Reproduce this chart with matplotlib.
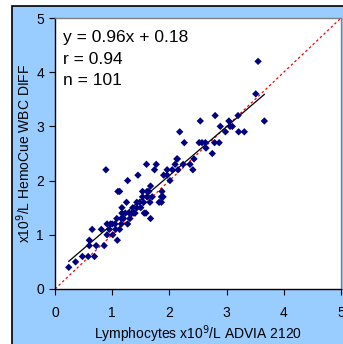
"""HemoCue WBC DIFF vs ADVIA 2120 lymphocyte comparison
"""
import matplotlib
matplotlib.use("Agg")
import matplotlib.pyplot as plt
from matplotlib.patches import Rectangle

# lymphocytes, x10^9/L
advia = [0.24, 0.36, 0.48, 0.58, 0.69, 0.60, 0.60, 0.72, 0.86, 0.65,
         0.81, 0.91, 0.91, 0.97, 1.01, 1.09, 1.06, 1.13, 1.08, 1.16,
         1.16, 1.27, 1.17, 1.17, 1.25, 1.34, 1.31, 1.36, 1.43, 1.43,
         1.48, 1.53, 1.61, 1.53, 1.61, 1.64, 1.67, 1.56, 1.59, 1.67,
         1.66, 1.70, 1.86, 1.86, 1.89, 1.87, 1.90, 1.96, 1.10, 1.13,
         0.89, 1.27, 1.45, 1.60, 1.77, 1.74, 1.96, 2.01, 2.10, 2.13,
         2.15, 2.24, 2.36, 2.41, 2.43, 2.64, 2.75, 3.55, 3.51, 3.66,
         3.20, 3.04, 3.10, 3.06, 3.21, 3.31, 2.98, 2.89, 2.80, 2.54,
         2.18, 2.26, 2.52, 2.57, 2.63, 2.79, 2.87, 2.14, 1.20, 1.23,
         1.38, 1.50, 1.55, 1.05, 0.95, 1.40, 1.62, 1.82, 1.30, 1.00,
         2.05]
hemocue = [0.4, 0.5, 0.6, 0.6, 0.6, 0.8, 0.9, 0.8, 0.8, 1.1,
           1.1, 1.0, 1.2, 1.2, 1.0, 0.9, 1.1, 1.1, 1.3, 1.2,
           1.3, 1.2, 1.4, 1.5, 1.6, 1.4, 1.3, 1.5, 1.6, 1.5,
           1.6, 1.8, 1.8, 1.7, 1.7, 1.8, 1.9, 1.4, 1.4, 1.3,
           1.6, 1.7, 1.7, 1.6, 1.7, 1.8, 2.1, 2.1, 1.8, 1.8,
           2.2, 2.0, 2.1, 2.3, 2.3, 2.2, 2.2, 2.0, 2.3, 2.4,
           2.2, 2.3, 2.3, 2.2, 2.4, 2.6, 2.5, 4.2, 3.6, 3.1,
           3.2, 3.1, 3.0, 3.0, 2.9, 2.9, 2.9, 3.0, 3.2, 3.1,
           2.9, 2.7, 2.7, 2.7, 2.7, 2.7, 2.7, 2.4, 1.3, 1.4,
           1.4, 1.5, 1.6, 1.2, 1.1, 1.4, 1.7, 1.6, 1.4, 1.2,
           2.2]

# regression line as drawn, and identity line
fit_x = [0.24, 3.66]
fit_y = [0.51, 3.59]
ident = [0, 5]

stats_text = ["y = 0.96x + 0.18", "r = 0.94", "n = 101"]
ticks = [0, 1, 2, 3, 4, 5]

plt.rcParams['font.family'] = ['Liberation Sans', 'DejaVu Sans']

W, H = 343, 344
fig = plt.figure(figsize=(W / 100, H / 100), dpi=100)
fig.patch.set_facecolor('white')

# outer chart area (light blue, black frame on top/left)
fig.patches.append(Rectangle((12 / W, -0.2), 1.2, (H - 6) / H + 0.2,
                             transform=fig.transFigure, facecolor='#99CCFF',
                             edgecolor='black', linewidth=1.2, zorder=-10))

ax = fig.add_axes([55 / W, (H - 289) / H, (341 - 55) / W, (289 - 18) / H])
ax.set_facecolor('white')

ax.plot(ident, ident, color='red', linestyle=(0, (2, 2)), linewidth=0.9, zorder=2)
ax.plot(fit_x, fit_y, color='black', linewidth=0.9, zorder=3)
ax.scatter(advia, hemocue, marker='D', s=14, color='#000080',
           edgecolor='none', zorder=4)

ax.set_xlim(0, 5)
ax.set_ylim(0, 5)
ax.set_xticks(ticks)
ax.set_yticks(ticks)
ax.tick_params(axis='both', direction='out', length=4, width=0.8,
               labelsize=10, colors='black')
ax.tick_params(axis='x', pad=8)
ax.tick_params(axis='y', pad=4)

for side in ['left', 'bottom']:
    ax.spines[side].set_color('black')
    ax.spines[side].set_linewidth(1.0)
for side in ['top', 'right']:
    ax.spines[side].set_color('#808080')
    ax.spines[side].set_linewidth(1.0)

ax.set_xlabel('Lymphocytes x10$^{9}$/L ADVIA 2120', fontsize=10, labelpad=3)
ax.set_ylabel('x10$^{9}$/L HemoCue WBC DIFF', fontsize=10, labelpad=2)

for i, line in enumerate(stats_text):
    ax.text(0.028, 0.911 - i * 0.079, line, transform=ax.transAxes,
            fontsize=12.5, va='baseline', ha='left')

fig.savefig('out.png', dpi=100)
